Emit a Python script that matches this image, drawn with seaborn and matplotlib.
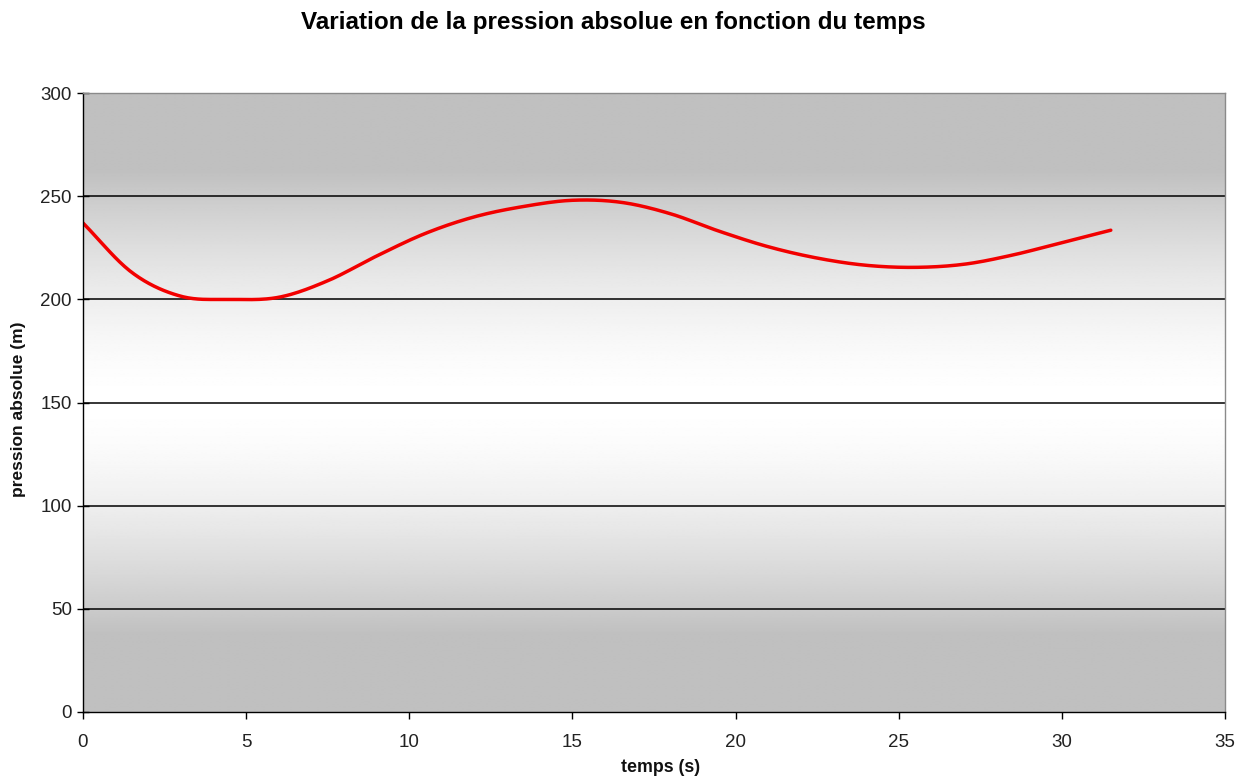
import numpy as np
import pandas as pd
import matplotlib
matplotlib.use("Agg")
import matplotlib.pyplot as plt
import seaborn as sns

# Measured absolute pressure (m) against time (s)
temps_s = [0, 1.5, 3, 4.5, 6, 7.5, 9, 10.5, 12, 13.5, 15, 16.5, 18, 19.5,
           21, 22.5, 24, 25.5, 27, 28.5, 30, 31.5]
pression_m = [237, 213, 201.5, 200, 201, 209, 221, 232, 240, 245, 248, 247,
              241.5, 233, 225.5, 220, 216.5, 215.5, 217, 221.5, 227.5, 233.5]

x_ticks = [0, 5, 10, 15, 20, 25, 30, 35]
y_ticks = [0, 50, 100, 150, 200, 250, 300]

title = "Variation de la pression absolue en fonction du temps"
x_label = "temps (s)"
y_label = "pression absolue (m)"


def smooth_curve(x, y, n=20):
    """Catmull-Rom spline through the points (smoothed line rendering)."""
    x = np.asarray(x, float)
    y = np.asarray(y, float)
    px = np.concatenate([[2 * x[0] - x[1]], x, [2 * x[-1] - x[-2]]])
    py = np.concatenate([[2 * y[0] - y[1]], y, [2 * y[-1] - y[-2]]])
    xs, ys = [], []
    t = np.linspace(0, 1, n, endpoint=False)
    for i in range(1, len(px) - 2):
        p0, p1, p2, p3 = (np.array([px[j], py[j]]) for j in range(i - 1, i + 3))
        tt = t[:, None]
        pts = 0.5 * ((2 * p1) + (-p0 + p2) * tt + (2 * p0 - 5 * p1 + 4 * p2 - p3) * tt ** 2
                     + (-p0 + 3 * p1 - 3 * p2 + p3) * tt ** 3)
        xs.append(pts[:, 0])
        ys.append(pts[:, 1])
    xs.append([x[-1]])
    ys.append([y[-1]])
    return np.concatenate(xs), np.concatenate(ys)


sns.set_theme(style="white")
plt.rcParams["font.family"] = ["Liberation Sans", "DejaVu Sans"]

fig = plt.figure(figsize=(12.52, 7.8), dpi=100)
ax = fig.add_axes([83 / 1252, 1 - 712 / 780, (1225 - 83) / 1252, (712 - 93) / 780])

# Plot-area background: grey at top and bottom, white in the middle
v = np.linspace(0, 1, 400)
d = np.abs(v - 0.5) / 0.5
shade = 1 - 0.247 * np.clip(d / 0.75, 0, 1) ** 1.6
img = np.repeat(shade[:, None], 2, axis=1)
ax.imshow(img, cmap="gray", vmin=0, vmax=1, extent=[0, 35, 0, 300],
          aspect="auto", origin="lower", zorder=0, interpolation="bilinear")

sx, sy = smooth_curve(temps_s, pression_m)
df = pd.DataFrame({"t": sx, "p": sy})
sns.lineplot(data=df, x="t", y="p", ax=ax, color="#f20000", linewidth=2.5,
             sort=False, zorder=3)

ax.set_xlim(0, 35)
ax.set_ylim(0, 300)
ax.set_xticks(x_ticks)
ax.set_yticks(y_ticks)
ax.set_xticklabels([str(t) for t in x_ticks], fontsize=13.5)
ax.set_yticklabels([str(t) for t in y_ticks], fontsize=13.5)

for val in y_ticks[1:-1]:
    ax.axhline(val, color="black", linewidth=1.1, zorder=2)

ax.spines["left"].set_color("black")
ax.spines["bottom"].set_color("black")
ax.spines["top"].set_color("#8a8a8a")
ax.spines["right"].set_color("#8a8a8a")
for s in ax.spines.values():
    s.set_linewidth(1.0)
    s.set_zorder(4)

ax.tick_params(axis="y", direction="inout", length=8, width=1, pad=4, left=True, colors="black",
               labelcolor="#222222")
ax.tick_params(axis="x", direction="out", length=5, width=1, pad=11, bottom=True, colors="black",
               labelcolor="#222222")

ax.set_xlabel(x_label, fontsize=12.8, fontweight="bold", labelpad=4, color="#111111")
ax.xaxis.set_label_coords(0.506, -0.076)
ax.set_ylabel(y_label, fontsize=12.5, fontweight="bold", labelpad=12, color="#111111")
ax.yaxis.set_label_coords(-0.050, 0.489)

fig.text(613 / 1252, 1 - 22 / 780, title, ha="center", va="center",
         fontsize=17.5, fontweight="bold", color="black")

fig.savefig("out.png", dpi=100, facecolor="white")
